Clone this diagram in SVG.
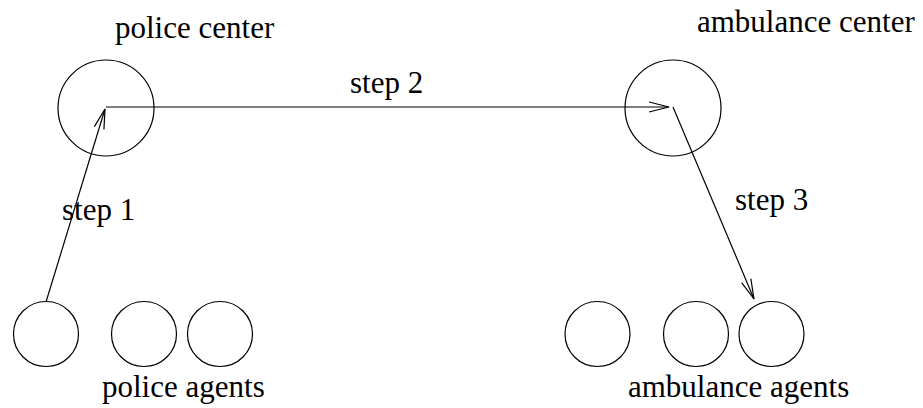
<svg xmlns="http://www.w3.org/2000/svg" width="923" height="408" viewBox="0 0 923 408">
<style>
.n{fill:none;stroke:#000;stroke-width:1.2}
.c{fill:none;stroke:#000;stroke-width:1.2}
text{font-family:"Liberation Serif","Times New Roman",serif;font-size:31px;fill:#000}
</style>
<defs>
<marker id="ah" markerUnits="userSpaceOnUse" viewBox="-22 -7 24 14" refX="0" refY="0" markerWidth="24" markerHeight="14" orient="auto">
<path d="M-20,-5 L0,0 L-20,5" fill="none" stroke="#000" stroke-width="1.2"/>
</marker>
</defs>
<rect width="923" height="408" fill="#fff"/>
<g id="police-center">
<circle class="n" cx="106" cy="108" r="48"/>
<text x="115" y="38">police center</text>
</g>
<g id="ambulance-center">
<circle class="n" cx="673" cy="108" r="48"/>
<text x="697" y="32">ambulance center</text>
</g>
<g id="police-agents">
<circle class="n" cx="46" cy="334" r="32.5"/>
<circle class="n" cx="144" cy="334" r="32.5"/>
<circle class="n" cx="220" cy="334" r="32.5"/>
<text x="102" y="397">police agents</text>
</g>
<g id="ambulance-agents">
<circle class="n" cx="597.5" cy="334" r="32.5"/>
<circle class="n" cx="696" cy="334" r="32.5"/>
<circle class="n" cx="771.5" cy="334" r="32.5"/>
<text x="628" y="397">ambulance agents</text>
</g>
<g id="connectors">
<line class="c" x1="46" y1="302" x2="105" y2="109" marker-end="url(#ah)"/>
<line class="c" x1="106" y1="107" x2="669" y2="107" marker-end="url(#ah)"/>
<line class="c" x1="673" y1="107" x2="754" y2="299" marker-end="url(#ah)"/>
<text x="350" y="93">step 2</text>
<text x="62" y="220">step 1</text>
<text x="735" y="210">step 3</text>
</g>
</svg>
